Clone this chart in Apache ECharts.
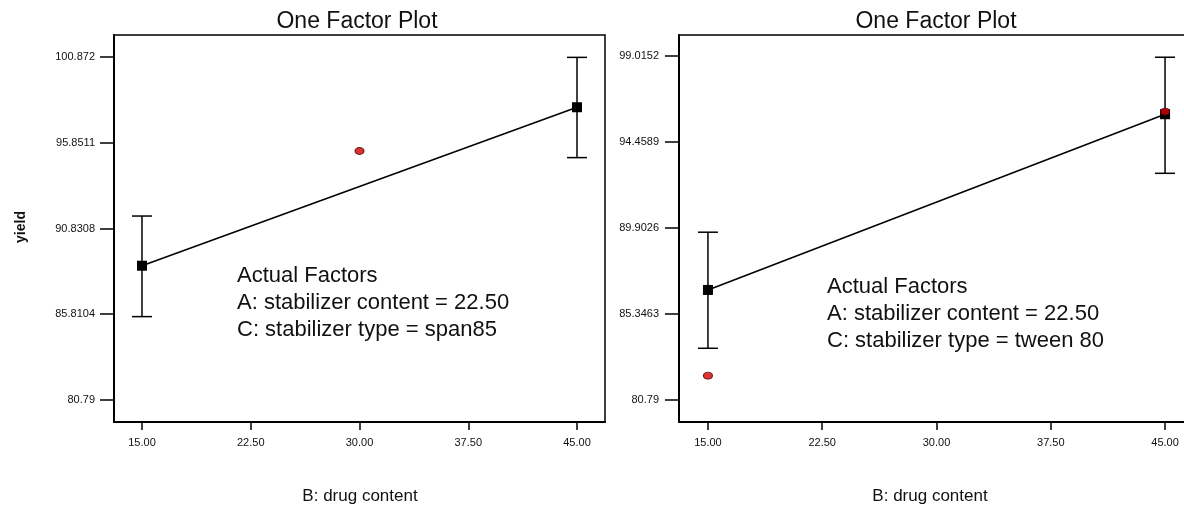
<!DOCTYPE html>
<html>
<head>
<meta charset="utf-8">
<script src="https://cdn.jsdelivr.net/npm/echarts@6/dist/echarts.min.js"></script>
<style>html,body{margin:0;padding:0;background:#fff}#c{width:1184px;height:506px}</style>
</head>
<body>
<div id="c"></div>
<script>
// ---- data ----
var xTicks = [15, 22.5, 30, 37.5, 45];
var xTickLabels = ['15.00', '22.50', '30.00', '37.50', '45.00'];

var leftYTicks = [80.79, 85.8104, 90.8308, 95.8511, 100.872];
var leftYTickLabels = ['80.79', '85.8104', '90.8308', '95.8511', '100.872'];
var rightYTicks = [80.79, 85.3463, 89.9026, 94.4589, 99.0152];
var rightYTickLabels = ['80.79', '85.3463', '89.9026', '94.4589', '99.0152'];

// predicted means (line + squares)
var leftPredicted = [[15, 88.65], [45, 97.93]];
var rightPredicted = [[15, 86.62], [45, 95.93]];
// error bars [x, low, high]
var leftErrors = [[15, 85.67, 91.56], [45, 94.98, 100.85]];
var rightErrors = [[15, 83.53, 89.68], [45, 92.80, 98.95]];
// actual design points (red dots)
var leftActual = [[30, 95.37]];
var rightActual = [[15, 82.08], [45, 96.07]];

var titleText = 'One Factor Plot';
var xName = 'B: drug content';
var yName = 'yield';
var leftNotes = ['Actual Factors', 'A: stabilizer content = 22.50', 'C: stabilizer type = span85'];
var rightNotes = ['Actual Factors', 'A: stabilizer content = 22.50', 'C: stabilizer type = tween 80'];

// ---- chart ----
var FONT = "'Liberation Sans', Arial, sans-serif";
var chart = echarts.init(document.getElementById('c'), null, {renderer: 'canvas'});

function xAxisDef(gi, min, max) {
  return {
    type: 'value', gridIndex: gi, min: min, max: max,
    axisLine: {show: true, lineStyle: {color: '#000', width: 2}},
    axisTick: {show: true, length: 8, customValues: xTicks, lineStyle: {color: '#000', width: 1.5}},
    axisLabel: {show: true, margin: 15, customValues: xTicks, color: '#111', fontSize: 11, fontFamily: FONT,
      formatter: function (v) { var i = xTicks.indexOf(v); return i >= 0 ? xTickLabels[i] : ''; }},
    splitLine: {show: false}
  };
}
function yAxisDef(gi, min, max, ticks, labels, margin) {
  return {
    type: 'value', gridIndex: gi, min: min, max: max,
    axisLine: {show: true, lineStyle: {color: '#000', width: 2}},
    axisTick: {show: true, length: 14, customValues: ticks, lineStyle: {color: '#000', width: 1.5}},
    axisLabel: {show: true, margin: margin, customValues: ticks, color: '#111', fontSize: 11, fontFamily: FONT,
      formatter: function (v) { var i = ticks.indexOf(v); return i >= 0 ? labels[i] : ''; }},
    splitLine: {show: false}
  };
}
function errSeries(gi, data) {
  return {
    type: 'custom', xAxisIndex: gi, yAxisIndex: gi, data: data, z: 2,
    renderItem: function (params, api) {
      var x = api.value(0);
      var lo = api.coord([x, api.value(1)]);
      var hi = api.coord([x, api.value(2)]);
      var w = 10;
      var st = {stroke: '#000', lineWidth: 1.5};
      return {type: 'group', children: [
        {type: 'line', shape: {x1: lo[0], y1: lo[1], x2: hi[0], y2: hi[1]}, style: st},
        {type: 'line', shape: {x1: lo[0] - w, y1: lo[1], x2: lo[0] + w, y2: lo[1]}, style: st},
        {type: 'line', shape: {x1: hi[0] - w, y1: hi[1], x2: hi[0] + w, y2: hi[1]}, style: st}
      ]};
    }
  };
}
function lineSeries(gi, data) {
  return {
    type: 'line', xAxisIndex: gi, yAxisIndex: gi, data: data, z: 3,
    symbol: 'rect', symbolSize: 10, showSymbol: true,
    lineStyle: {color: '#000', width: 1.5},
    itemStyle: {color: '#000'}, animation: false
  };
}
function dotSeries(gi, data) {
  return {
    type: 'scatter', xAxisIndex: gi, yAxisIndex: gi, data: data, z: 4,
    symbol: 'circle', symbolSize: [9, 7],
    itemStyle: {color: '#d40000', borderColor: '#400', borderWidth: 1}
  };
}
function noteGraphics(x, y, lines) {
  return lines.map(function (t, i) {
    return {type: 'text', left: x, top: y + i * 27, style: {text: t, fontSize: 22, fontFamily: FONT, fill: '#111'}};
  });
}

var option = {
  backgroundColor: '#fff',
  animation: false,
  grid: [
    {left: 114, top: 35, width: 491, height: 387, show: true, borderColor: '#000', borderWidth: 1.5, outerBoundsMode: 'none', containLabel: false},
    {left: 679, top: 35, width: 515, height: 387, show: true, borderColor: '#000', borderWidth: 1.5, outerBoundsMode: 'none', containLabel: false}
  ],
  xAxis: [xAxisDef(0, 13.07, 46.93), xAxisDef(1, 13.10, 46.90)],
  yAxis: [
    yAxisDef(0, 79.50, 102.16, leftYTicks, leftYTickLabels, 19),
    yAxisDef(1, 79.624, 100.128, rightYTicks, rightYTickLabels, 20)
  ],
  series: [
    errSeries(0, leftErrors), lineSeries(0, leftPredicted), dotSeries(0, leftActual),
    errSeries(1, rightErrors), lineSeries(1, rightPredicted), dotSeries(1, rightActual)
  ],
  graphic: [
    {type: 'text', x: 357, y: 22, style: {text: titleText, fontSize: 23, fontFamily: FONT, fill: '#111', align: 'center', verticalAlign: 'middle'}},
    {type: 'text', x: 936, y: 22, style: {text: titleText, fontSize: 23, fontFamily: FONT, fill: '#111', align: 'center', verticalAlign: 'middle'}},
    {type: 'text', x: 360, y: 496, style: {text: xName, fontSize: 17, fontFamily: FONT, fill: '#111', align: 'center', verticalAlign: 'middle'}},
    {type: 'text', x: 930, y: 496, style: {text: xName, fontSize: 17, fontFamily: FONT, fill: '#111', align: 'center', verticalAlign: 'middle'}},
    {type: 'text', x: 21, y: 227, rotation: Math.PI / 2, style: {text: yName, fontSize: 14, fontWeight: 'bold', fontFamily: FONT, fill: '#111', align: 'center', verticalAlign: 'middle'}}
  ].concat(noteGraphics(237, 265, leftNotes)).concat(noteGraphics(827, 276, rightNotes))
};
chart.setOption(option);
</script>
</body>
</html>
